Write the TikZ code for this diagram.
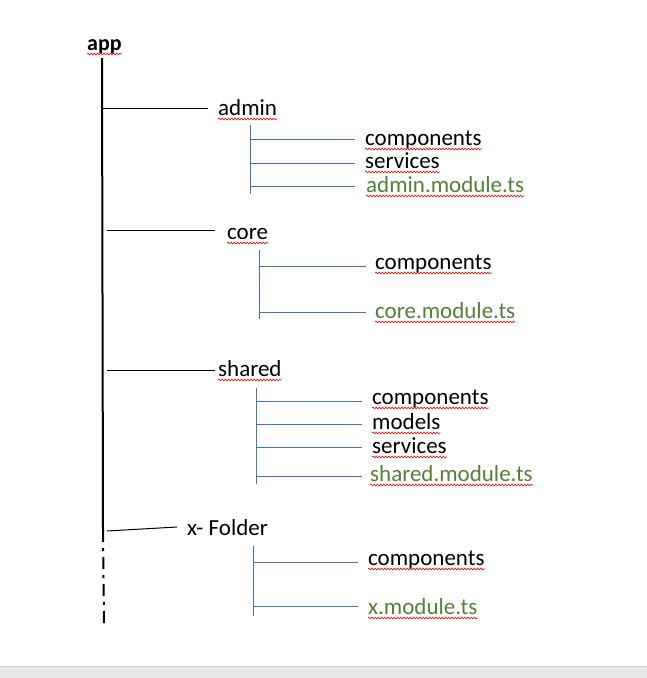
\documentclass[tikz,border=0pt]{standalone}
\usepackage{fontspec}
\setmainfont{Carlito}
\usetikzlibrary{decorations.pathmorphing}
\definecolor{lblue}{HTML}{4472C4}
\definecolor{fgreen}{HTML}{538135}
\definecolor{stripgray}{HTML}{E8E8E8}
\definecolor{stripline}{HTML}{D4D4D4}
\tikzset{
  lbl/.style={anchor=base west, inner sep=0pt, font=\fontsize{23}{25}\selectfont},
  modlbl/.style={lbl, text=fgreen},
  trunk/.style={line width=2pt, black},
  branch/.style={line width=1pt, black},
  sub/.style={line width=0.9pt, lblue},
  squig/.style={red, line width=0.6pt, decorate, decoration={snake, amplitude=0.9pt, segment length=3.2pt}},
}
\newcommand{\squigunder}[1]{\draw[squig] ([yshift=-4pt]#1.base west) -- ([yshift=-4pt]#1.base east);}
\begin{document}
\begin{tikzpicture}[x=1pt,y=-1pt]
\useasboundingbox (0,0) rectangle (647,678);
\fill[white] (0,0) rectangle (647,678);
\fill[stripgray] (0,666) rectangle (647,678);
\draw[stripline, line width=1pt] (0,666) -- (647,666);

% root
\node[lbl, font=\fontsize{22}{24}\selectfont\bfseries] (app) at (87,50) {app};
\coordinate (t0) at (102,58);
\coordinate (t1) at (103,530);
\coordinate (t2) at (104,626);
\draw[trunk] (t0) -- (t1);
\draw[trunk, dash pattern=on 12pt off 6pt on 3pt off 6pt] (t1) -- (t2);

% level 1
\node[lbl] (admin) at (218,115) {admin};
\node[lbl] (core) at (227,239) {core};
\node[lbl] (shared) at (218,376) {shared};
\node[lbl] (xf) at (187,535) {x- Folder};

\coordinate (ba0) at (103,108); \coordinate (ba1) at (208,108);
\coordinate (bc0) at (107,230); \coordinate (bc1) at (215,230);
\coordinate (bs0) at (107,370); \coordinate (bs1) at (215,370);
\coordinate (bx0) at (107,531); \coordinate (bx1) at (177,527);
\draw[branch] (ba0) -- (ba1);
\draw[branch] (bc0) -- (bc1);
\draw[branch] (bs0) -- (bs1);
\draw[branch] (bx0) -- (bx1);

% admin children
\node[lbl] (acomp) at (365,145) {components};
\node[lbl] (aserv) at (365,168) {services};
\node[modlbl] (amod) at (366,192) {admin.module.ts};
\coordinate (av0) at (250,125); \coordinate (av1) at (250,194);
\draw[sub] (av0) -- (av1);
\draw[sub] (250,139) -- (355,139);
\draw[sub] (250,163) -- (355,163);
\draw[sub] (250,186) -- (355,186);

% core children
\node[lbl] (ccomp) at (375,269) {components};
\node[modlbl] (cmod) at (375,318) {core.module.ts};
\draw[sub] (259,250) -- (259,319);
\draw[sub] (259,266) -- (366,266);
\draw[sub] (259,312) -- (366,312);

% shared children
\node[lbl] (scomp) at (372,404) {components};
\node[lbl] (smod) at (372,429) {models};
\node[lbl] (sserv) at (372,453) {services};
\node[modlbl] (smodule) at (370,481) {shared.module.ts};
\draw[sub] (256,388) -- (256,484);
\draw[sub] (256,401) -- (362,401);
\draw[sub] (256,424) -- (362,424);
\draw[sub] (256,447) -- (362,447);
\draw[sub] (256,476) -- (362,476);

% x children
\node[lbl] (xcomp) at (368,565) {components};
\node[modlbl] (xmod) at (368,614) {x.module.ts};
\draw[sub] (253,546) -- (253,616);
\draw[sub] (253,562) -- (358,562);
\draw[sub] (253,606) -- (358,606);

% spell-check squiggles
\squigunder{app}
\squigunder{admin}
\squigunder{acomp}
\squigunder{aserv}
\squigunder{amod}
\squigunder{core}
\squigunder{ccomp}
\squigunder{cmod}
\squigunder{shared}
\squigunder{scomp}
\squigunder{smod}
\squigunder{sserv}
\squigunder{smodule}
\squigunder{xcomp}
\squigunder{xmod}
\end{tikzpicture}
\end{document}
